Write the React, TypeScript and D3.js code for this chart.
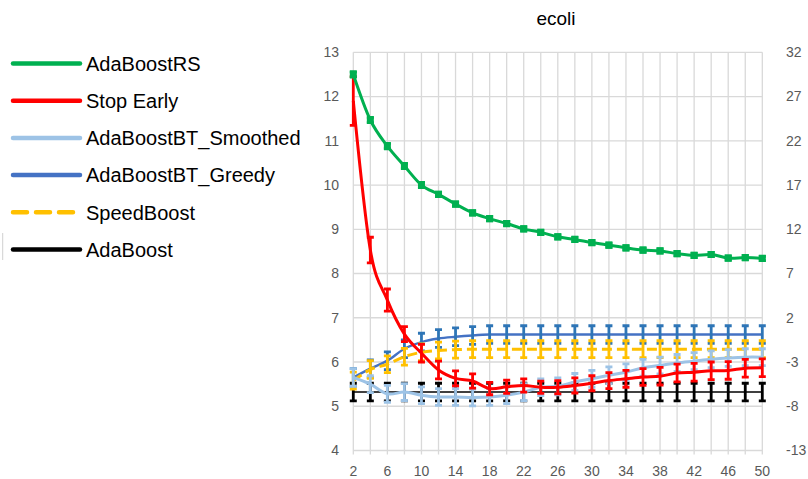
import React, { useEffect } from 'react';
import * as d3 from 'd3';

// iterations (category axis)
const iterations = [2, 4, 6, 8, 10, 12, 14, 16, 18, 20, 22, 24, 26, 28, 30, 32, 34, 36, 38, 40, 42, 44, 46, 48, 50];
const xTickLabels = [2, 6, 10, 14, 18, 22, 26, 30, 34, 38, 42, 46, 50];
const leftTicks = [4, 5, 6, 7, 8, 9, 10, 11, 12, 13];
const rightTicks = [-13, -8, -3, 2, 7, 12, 17, 22, 27, 32];

const adaBoostRS = [12.5, 11.47, 10.88, 10.43, 10.0, 9.79, 9.57, 9.37, 9.24, 9.13, 9.01, 8.93, 8.83, 8.77, 8.70, 8.64, 8.58, 8.53, 8.51, 8.45, 8.41, 8.43, 8.35, 8.36, 8.34];
const adaBoostRSErr = [0.06, 0.06, 0.06, 0.06, 0.06, 0.05, 0.05, 0.05, 0.05, 0.05, 0.05, 0.05, 0.05, 0.05, 0.05, 0.05, 0.05, 0.05, 0.05, 0.05, 0.05, 0.05, 0.05, 0.05, 0.05];

const stopEarly = [11.9, 8.53, 7.40, 6.63, 6.2, 5.82, 5.63, 5.57, 5.40, 5.44, 5.47, 5.43, 5.43, 5.47, 5.52, 5.58, 5.62, 5.66, 5.68, 5.75, 5.77, 5.80, 5.81, 5.86, 5.87];
const stopEarlyErr = [0.55, 0.29, 0.25, 0.17, 0.2, 0.2, 0.17, 0.16, 0.14, 0.15, 0.15, 0.14, 0.15, 0.17, 0.17, 0.18, 0.19, 0.19, 0.2, 0.2, 0.2, 0.2, 0.2, 0.2, 0.2];

const btSmoothed = [5.65, 5.50, 5.28, 5.32, 5.25, 5.21, 5.21, 5.20, 5.21, 5.25, 5.32, 5.43, 5.45, 5.55, 5.62, 5.70, 5.77, 5.87, 5.92, 5.98, 6.02, 6.06, 6.09, 6.11, 6.11];
const btSmoothedErr = [0.2, 0.19, 0.19, 0.19, 0.19, 0.19, 0.19, 0.19, 0.19, 0.19, 0.19, 0.19, 0.19, 0.19, 0.19, 0.19, 0.19, 0.19, 0.19, 0.19, 0.19, 0.19, 0.19, 0.19, 0.19];

const btGreedy = [5.65, 5.85, 6.03, 6.30, 6.45, 6.53, 6.57, 6.60, 6.62, 6.62, 6.62, 6.62, 6.62, 6.62, 6.62, 6.62, 6.62, 6.62, 6.62, 6.62, 6.62, 6.62, 6.62, 6.62, 6.62];
const btGreedyErr = [0.2, 0.2, 0.2, 0.2, 0.2, 0.2, 0.2, 0.2, 0.2, 0.2, 0.2, 0.2, 0.2, 0.2, 0.2, 0.2, 0.2, 0.2, 0.2, 0.2, 0.2, 0.2, 0.2, 0.2, 0.2];

const speedBoost = [5.58, 5.83, 5.95, 6.12, 6.22, 6.26, 6.28, 6.29, 6.29, 6.29, 6.29, 6.29, 6.29, 6.29, 6.29, 6.29, 6.29, 6.29, 6.29, 6.29, 6.29, 6.29, 6.29, 6.29, 6.29];
const speedBoostErr = [0.19, 0.2, 0.19, 0.19, 0.19, 0.19, 0.19, 0.19, 0.19, 0.19, 0.19, 0.19, 0.19, 0.19, 0.19, 0.19, 0.19, 0.19, 0.19, 0.19, 0.19, 0.19, 0.19, 0.19, 0.19];

const adaBoost = [5.32, 5.32, 5.32, 5.32, 5.32, 5.32, 5.32, 5.32, 5.32, 5.32, 5.32, 5.32, 5.32, 5.32, 5.32, 5.32, 5.32, 5.32, 5.32, 5.32, 5.32, 5.32, 5.32, 5.32, 5.32];
const adaBoostErr = [0.2, 0.2, 0.2, 0.2, 0.2, 0.2, 0.2, 0.2, 0.2, 0.2, 0.2, 0.2, 0.2, 0.2, 0.2, 0.2, 0.2, 0.2, 0.2, 0.2, 0.2, 0.2, 0.2, 0.2, 0.2];

const legendNames = ['AdaBoostRS', 'Stop Early', 'AdaBoostBT_Smoothed', 'AdaBoostBT_Greedy', 'SpeedBoost', 'AdaBoost'];

interface Series {
  name: string;
  values: number[];
  err: number[];
  color: string;
  errColor: string;
  width: number;
  dash?: string;
  smooth: boolean;
  marker?: boolean;
}

// drawing order: bottom first
const series: Series[] = [
  { name: 'AdaBoost', values: adaBoost, err: adaBoostErr, color: '#000000', errColor: '#000000', width: 1.5, smooth: false },
  { name: 'AdaBoostBT_Greedy', values: btGreedy, err: btGreedyErr, color: '#4472C4', errColor: '#2E75B6', width: 2.5, smooth: true },
  { name: 'SpeedBoost', values: speedBoost, err: speedBoostErr, color: '#FFC000', errColor: '#FFC000', width: 3, dash: '10,5', smooth: true },
  { name: 'AdaBoostBT_Smoothed', values: btSmoothed, err: btSmoothedErr, color: '#9DC3E6', errColor: '#9DC3E6', width: 3, smooth: true },
  { name: 'Stop Early', values: stopEarly, err: stopEarlyErr, color: '#FF0000', errColor: '#FF0000', width: 3, smooth: true },
  { name: 'AdaBoostRS', values: adaBoostRS, err: adaBoostRSErr, color: '#00B050', errColor: '#00B050', width: 3, smooth: true, marker: true },
];

const legendStyle: Record<string, { color: string; dash?: string }> = {
  AdaBoostRS: { color: '#00B050' },
  'Stop Early': { color: '#FF0000' },
  AdaBoostBT_Smoothed: { color: '#9DC3E6' },
  AdaBoostBT_Greedy: { color: '#4472C4' },
  SpeedBoost: { color: '#FFC000', dash: '14,9' },
  AdaBoost: { color: '#000000' },
};

const FONT = '"Liberation Sans", Arial, sans-serif';

export default function App() {
  useEffect(() => {
    document.body.style.margin = '0';
  }, []);

  const left = 353.3, right = 762.3, top = 52.3, bottom = 450.5;
  const x = d3.scalePoint<number>().domain(iterations).range([left, right]);
  const y = d3.scaleLinear().domain([4, 13]).range([bottom, top]);
  const y2 = d3.scaleLinear().domain([-13, 32]).range([bottom, top]);

  const lineFor = (s: Series) =>
    d3.line<number>()
      .x((_, i) => x(iterations[i]) as number)
      .y(d => y(d))
      .curve(s.smooth ? d3.curveCardinal.tension(0) : d3.curveLinear)(s.values) || '';

  const grid = '#D9D9D9';
  const capW = 3.5;

  return (
    <svg width={808} height={479} style={{ display: 'block', background: '#fff' }} fontFamily={FONT}>
      <defs>
        <clipPath id="plot">
          <rect x={left - 10} y={top} width={right - left + 20} height={bottom - top} />
        </clipPath>
      </defs>

      {/* title */}
      <text x={556} y={25} textAnchor="middle" fontSize={19} fill="#000">ecoli</text>

      {/* gridlines */}
      {leftTicks.map(t => (
        <line key={'h' + t} x1={left} x2={right} y1={y(t)} y2={y(t)} stroke={grid} strokeWidth={1.3} />
      ))}
      {iterations.map(it => (
        <line key={'v' + it} x1={x(it)} x2={x(it)} y1={top} y2={bottom + 4} stroke={grid} strokeWidth={1.3} />
      ))}

      {/* left axis labels */}
      {leftTicks.map(t => (
        <text key={'l' + t} x={339} y={y(t)} dy="0.35em" textAnchor="end" fontSize={14} fill="#595959">{t}</text>
      ))}
      {/* right axis labels */}
      {rightTicks.map(t => (
        <text key={'r' + t} x={786} y={y2(t)} dy="0.35em" textAnchor="start" fontSize={14} fill="#595959">{t}</text>
      ))}
      {/* bottom labels */}
      {xTickLabels.map(t => (
        <text key={'b' + t} x={x(t)} y={476} textAnchor="middle" fontSize={14} fill="#595959">{t}</text>
      ))}

      {/* series */}
      <g clipPath="url(#plot)">
        {series.map(s => (
          <g key={s.name}>
            <path d={lineFor(s)} fill="none" stroke={s.color} strokeWidth={s.width} strokeDasharray={s.dash} strokeLinejoin="round" />
            {s.values.map((v, i) => {
              const cx = x(iterations[i]) as number;
              const y0 = y(v + s.err[i]);
              const y1 = y(v - s.err[i]);
              return (
                <g key={i} stroke={s.errColor} strokeWidth={2.8}>
                  <line x1={cx} x2={cx} y1={y0} y2={y1} />
                  <line x1={cx - capW} x2={cx + capW} y1={y0} y2={y0} />
                  <line x1={cx - capW} x2={cx + capW} y1={y1} y2={y1} />
                </g>
              );
            })}
            {s.marker && s.values.map((v, i) => (
              <rect key={'m' + i} x={(x(iterations[i]) as number) - 3.5} y={y(v) - 3.5} width={7} height={7} fill={s.color} />
            ))}
          </g>
        ))}
      </g>

      {/* legend */}
      <line x1={2.7} x2={2.7} y1={233} y2={260} stroke="#D0D0D0" strokeWidth={1} />
      {legendNames.map((name, i) => {
        const ly = 63.5 + i * 37.2;
        const st = legendStyle[name];
        return (
          <g key={name}>
            <line x1={13} x2={80} y1={ly} y2={ly} stroke={st.color} strokeWidth={4.5}
              strokeLinecap="round" strokeDasharray={st.dash} />
            <text x={86} y={ly} dy="0.36em" fontSize={20} fill="#000">{name}</text>
          </g>
        );
      })}
    </svg>
  );
}
